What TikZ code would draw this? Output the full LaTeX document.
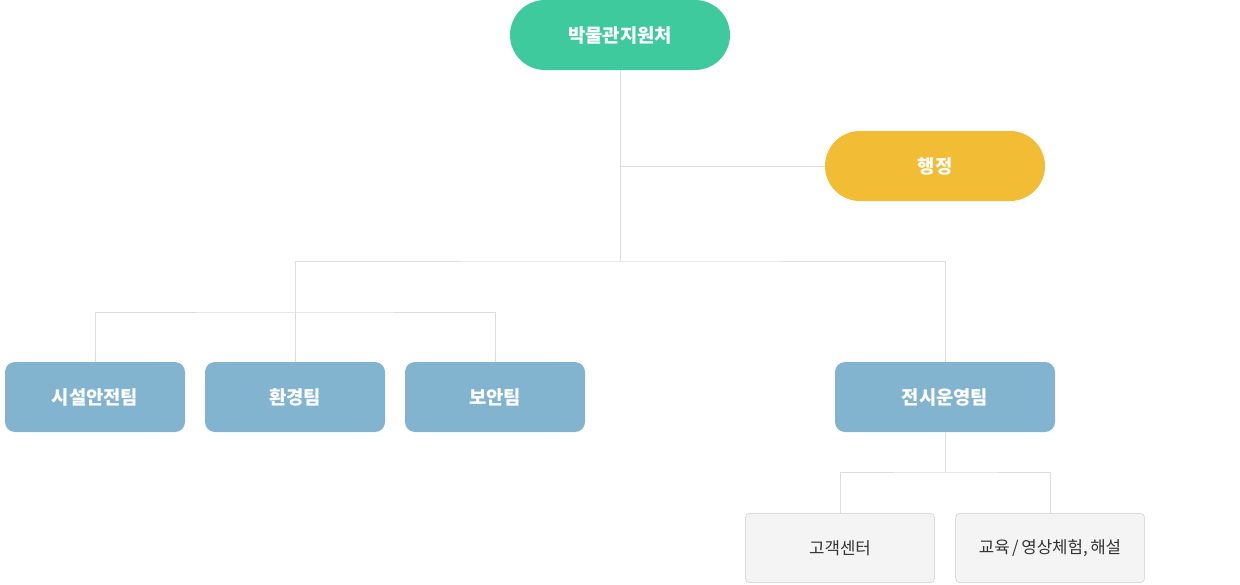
\documentclass[tikz,border=0pt]{standalone}
\usepackage{fontspec}
\setmainfont{Noto Sans CJK KR}
\definecolor{cgreen}{HTML}{3ECA9C}
\definecolor{cyellow}{HTML}{F2BC35}
\definecolor{cblue}{HTML}{82B4D0}
\definecolor{cgray}{HTML}{F4F4F4}
\definecolor{cgrayb}{HTML}{DADADA}
\definecolor{cline}{HTML}{DDDDDD}
\definecolor{ctext}{HTML}{333333}
\tikzset{
  pill/.style={rectangle, rounded corners=35pt, minimum width=220pt, minimum height=70pt, inner sep=0pt, text=white, font=\fontsize{18.8}{22}\selectfont\bfseries},
  team/.style={rectangle, rounded corners=10pt, fill=cblue, minimum height=70pt, inner sep=0pt, text=white, font=\fontsize{18.8}{22}\selectfont\bfseries},
  sub/.style={rectangle, rounded corners=4pt, fill=cgray, draw=cgrayb, line width=0.8pt, minimum width=189pt, minimum height=69pt, inner sep=0pt, text=ctext, font=\fontsize{16.8}{20}\selectfont},
  link/.style={draw=cline, line width=1pt}
}
\begin{document}
\begin{tikzpicture}[x=1pt,y=-1pt]
\useasboundingbox (0,0) rectangle (1240,584);
\node[pill, fill=cgreen] (top) at (620,35) {박물관지원처};
\node[pill, fill=cyellow] (admin) at (935,166) {행정};
\node[team, minimum width=180pt] (t1) at (95,397) {시설안전팀};
\node[team, minimum width=180pt] (t2) at (295,397) {환경팀};
\node[team, minimum width=180pt] (t3) at (495,397) {보안팀};
\node[team, minimum width=220pt] (t4) at (945,397) {전시운영팀};
\node[sub] (s1) at (840,548) {고객센터};
\node[sub] (s2) at (1050,548) {교육\hspace{2.5pt}/\hspace{2.5pt}영상체험,\hspace{2.5pt}해설};
\coordinate (j1) at (620,261);
\coordinate (j2) at (620,166);
\coordinate (j3) at (295,312);
\coordinate (j4) at (945,472);
\draw[link] (top.south) -- (j1);
\draw[link] (j2) -- (admin.west);
\draw[link] (t2.north) |- (j1) -| (t4.north);
\draw[link] (t1.north) |- (j3) -| (t3.north);
\draw[link] (t4.south) -- (j4);
\draw[link] (s1.north) |- (j4) -| (s2.north);
\end{tikzpicture}
\end{document}
